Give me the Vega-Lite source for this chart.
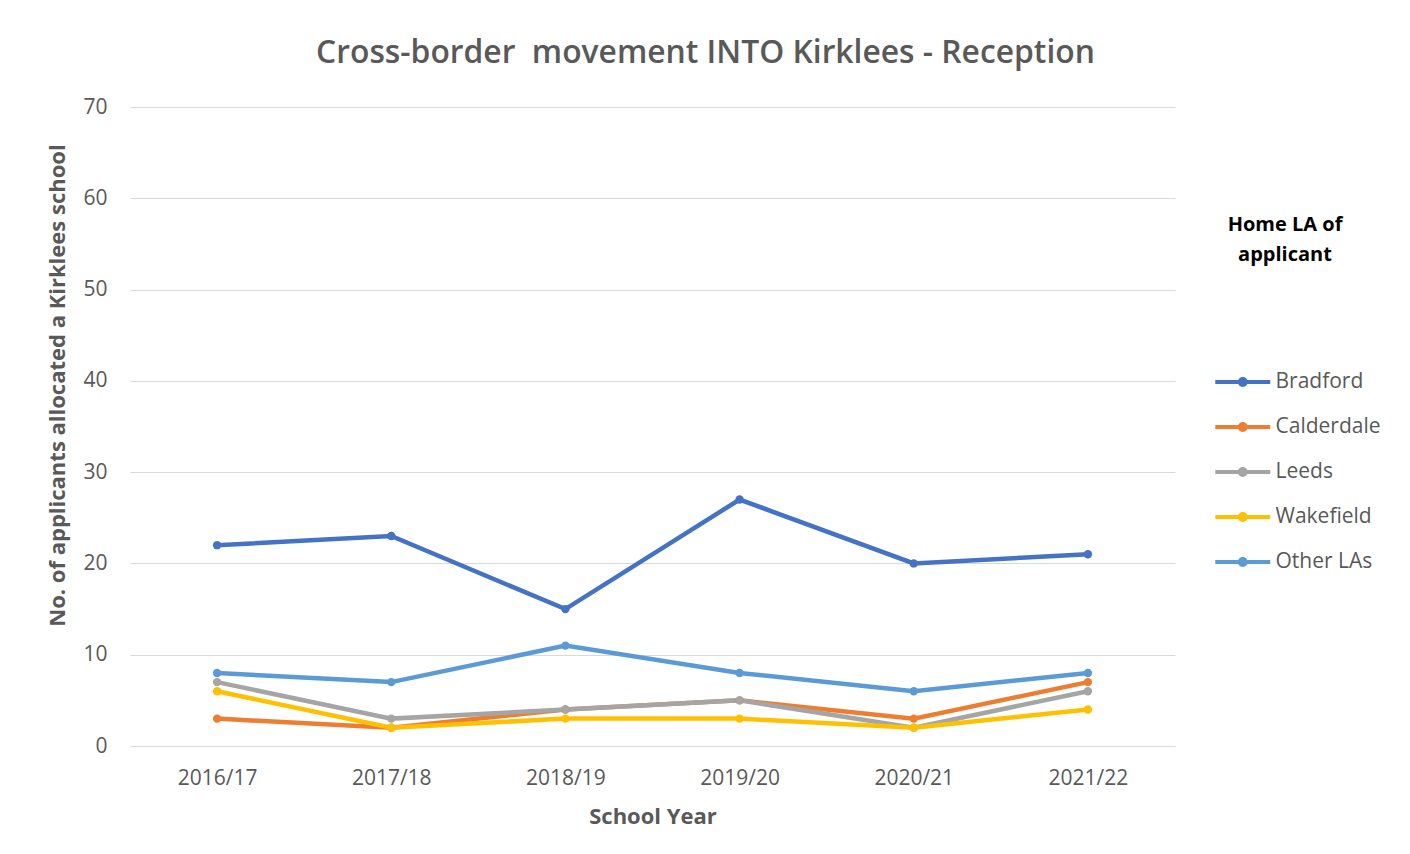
{
  "$schema": "https://vega.github.io/schema/vega-lite/v6.json",
  "autosize": {"type": "none"},
  "width": 1045,
  "height": 639,
  "padding": {"left": 130, "top": 107, "right": 235, "bottom": 108},
  "background": "white",
  "title": {
    "text": "Cross-border\u00a0 movement INTO Kirklees - Reception",
    "font": "Open Sans",
    "fontSize": 31.8,
    "fontWeight": 600,
    "color": "#595959",
    "anchor": "middle",
    "dx": 53,
    "offset": 26
  },
  "data": {
    "values": [
      {"year": "2016/17", "la": "Bradford", "value": 22},
      {"year": "2017/18", "la": "Bradford", "value": 23},
      {"year": "2018/19", "la": "Bradford", "value": 15},
      {"year": "2019/20", "la": "Bradford", "value": 27},
      {"year": "2020/21", "la": "Bradford", "value": 20},
      {"year": "2021/22", "la": "Bradford", "value": 21},
      {"year": "2016/17", "la": "Calderdale", "value": 3},
      {"year": "2017/18", "la": "Calderdale", "value": 2},
      {"year": "2018/19", "la": "Calderdale", "value": 4},
      {"year": "2019/20", "la": "Calderdale", "value": 5},
      {"year": "2020/21", "la": "Calderdale", "value": 3},
      {"year": "2021/22", "la": "Calderdale", "value": 7},
      {"year": "2016/17", "la": "Leeds", "value": 7},
      {"year": "2017/18", "la": "Leeds", "value": 3},
      {"year": "2018/19", "la": "Leeds", "value": 4},
      {"year": "2019/20", "la": "Leeds", "value": 5},
      {"year": "2020/21", "la": "Leeds", "value": 2},
      {"year": "2021/22", "la": "Leeds", "value": 6},
      {"year": "2016/17", "la": "Wakefield", "value": 6},
      {"year": "2017/18", "la": "Wakefield", "value": 2},
      {"year": "2018/19", "la": "Wakefield", "value": 3},
      {"year": "2019/20", "la": "Wakefield", "value": 3},
      {"year": "2020/21", "la": "Wakefield", "value": 2},
      {"year": "2021/22", "la": "Wakefield", "value": 4},
      {"year": "2016/17", "la": "Other LAs", "value": 8},
      {"year": "2017/18", "la": "Other LAs", "value": 7},
      {"year": "2018/19", "la": "Other LAs", "value": 11},
      {"year": "2019/20", "la": "Other LAs", "value": 8},
      {"year": "2020/21", "la": "Other LAs", "value": 6},
      {"year": "2021/22", "la": "Other LAs", "value": 8}
    ]
  },
  "encoding": {
    "x": {
      "field": "year",
      "type": "ordinal",
      "scale": {"type": "point", "padding": 0.5},
      "axis": {
        "title": "School Year",
        "labelAngle": 0,
        "domain": false,
        "ticks": false,
        "labelPadding": 21,
        "titlePadding": 18
      }
    },
    "y": {
      "field": "value",
      "type": "quantitative",
      "scale": {"domain": [0, 70], "nice": false},
      "axis": {
        "title": "No. of applicants allocated a Kirklees school",
        "values": [0, 10, 20, 30, 40, 50, 60, 70],
        "domain": false,
        "ticks": false,
        "labelPadding": 23,
        "titleX": -73,
        "titleY": 278,
        "titleAngle": -90,
        "titleAlign": "center",
        "titleBaseline": "middle"
      }
    },
    "color": {
      "field": "la",
      "type": "nominal",
      "sort": ["Bradford", "Calderdale", "Leeds", "Wakefield", "Other LAs"],
      "scale": {
        "domain": ["Bradford", "Calderdale", "Leeds", "Wakefield", "Other LAs"],
        "range": ["#4472C4", "#ED7D31", "#A5A5A5", "#FFC000", "#5B9BD5"]
      },
      "legend": {
        "title": ["Home LA of", "applicant"],
        "orient": "none",
        "legendX": 1098,
        "legendY": 108,
        "padding": 0,
        "titleAnchor": "start",
        "titleAlign": "center",
        "titlePadding": 103,
        "titleLineHeight": 30,
        "symbolType": "M-6.09,-0.15H-2.09V0.15H-6.09Z M-4.45,0 A0.36,0.36 0 1,1 -3.73,0 A0.36,0.36 0 1,1 -4.45,0",
        "symbolSize": 756,
        "symbolStrokeWidth": 0,
        "symbolOpacity": 1,
        "rowPadding": 21,
        "labelOffset": -37.5
      }
    }
  },
  "layer": [
    {
      "mark": {"type": "line", "strokeWidth": 4.5},
      "encoding": {"detail": {"field": "la"}}
    },
    {
      "mark": {"type": "point", "filled": true, "size": 70, "opacity": 1}
    }
  ],
  "config": {
    "font": "Open Sans",
    "view": {"stroke": null},
    "axis": {
      "labelFont": "Open Sans",
      "labelFontSize": 21,
      "labelColor": "#595959",
      "titleFont": "Open Sans",
      "titleFontSize": 22,
      "titleFontWeight": "bold",
      "titleColor": "#595959",
      "gridColor": "#D9D9D9",
      "gridWidth": 1
    },
    "axisX": {"grid": false},
    "legend": {
      "labelFont": "Open Sans",
      "labelFontSize": 21,
      "labelColor": "#595959",
      "titleFont": "Open Sans",
      "titleFontSize": 20,
      "titleFontWeight": "bold",
      "titleColor": "#000000",
      "titleLimit": 300
    }
  }
}
